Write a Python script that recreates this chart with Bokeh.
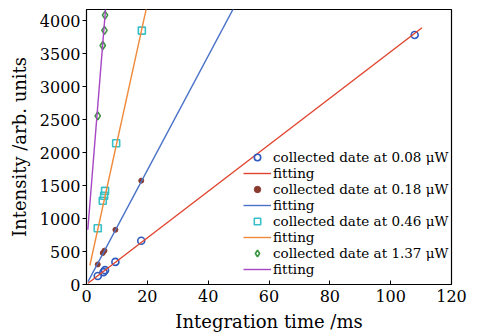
from bokeh.plotting import figure
from bokeh.models import Range1d, Legend, LegendItem, FixedTicker
from bokeh.embed import file_html
from bokeh.resources import INLINE

# ---- data ----
t_008 = [3.7, 5.6, 6.1, 9.5, 18.0, 107.9]
i_008 = [128, 188, 218, 343, 665, 3787]
t_018 = [3.7, 5.35, 5.9, 9.5, 18.0]
i_018 = [304, 478, 514, 830, 1576]
t_046 = [3.7, 5.35, 5.8, 6.1, 9.75, 18.2]
i_046 = [854, 1271, 1346, 1421, 2143, 3853]
t_137 = [3.7, 5.35, 5.9, 6.1]
i_137 = [2559, 3627, 3857, 4087]

# fitted lines: slope, intercept, x start, x end
fit_slope = [35.3, 86.7, 210.0, 575.0]
fit_icpt = [2.0, 0.0, 57.0, 583.0]
fit_x0 = [0.5, 0.5, 1.1, 0.43]
fit_x1 = [110.3, 50.0, 20.5, 6.6]

labels = ["collected date at 0.08 \u03bcW", "collected date at 0.18 \u03bcW",
          "collected date at 0.46 \u03bcW", "collected date at 1.37 \u03bcW"]
x_ticks = [0, 20, 40, 60, 80, 100, 120]
y_ticks = [0, 500, 1000, 1500, 2000, 2500, 3000, 3500, 4000]

FONT = "DejaVu Serif"

p = figure(width=472, height=334, output_backend="svg", toolbar_location=None,
           x_range=Range1d(0, 120), y_range=Range1d(0, 4173),
           min_border_left=86, min_border_right=21, min_border_top=9, min_border_bottom=44)
p.background_fill_color = "white"
p.outline_line_color = "black"
p.outline_line_width = 1.2
p.xgrid.visible = False
p.ygrid.visible = False

for ax in (p.xaxis[0], p.yaxis[0]):
    ax.axis_label_text_font = FONT
    ax.axis_label_text_font_style = "normal"
    ax.axis_label_text_font_size = "18px"
    ax.axis_label_text_color = "black"
    ax.major_label_text_font = FONT
    ax.major_label_text_font_size = "16px"
    ax.major_label_text_color = "black"
    ax.minor_tick_line_color = None
    ax.axis_line_color = "black"
    ax.major_tick_line_color = "black"

p.xaxis.axis_label = "Integration time /ms"
p.yaxis.axis_label = "Intensity /arb. units"
p.xaxis.ticker = FixedTicker(ticks=x_ticks)
p.yaxis.ticker = FixedTicker(ticks=y_ticks)
p.xaxis.major_tick_in = 4
p.xaxis.major_tick_out = 0
p.yaxis.major_tick_in = 0
p.yaxis.major_tick_out = 4
p.xaxis.major_label_standoff = 5
p.yaxis.major_label_standoff = 2
p.xaxis.axis_label_standoff = 6
p.yaxis.axis_label_standoff = 7

line_colors = ["#e0442e", "#4a72c8", "#f08a3a", "#a745c4"]

# scatter markers
r_pts = []
r_pts.append(p.scatter(t_008, i_008, marker="circle", size=7, fill_color=None,
                       line_color="#2f5bbf", line_width=1.6))
r_pts.append(p.scatter(t_018, i_018, marker="circle", size=5, fill_color="#8b3a2e",
                       line_color="#8b3a2e", line_width=1))
r_pts.append(p.scatter(t_046, i_046, marker="square", size=7, fill_color=None,
                       line_color="#38c0c8", line_width=1.6))
r_pts.append(p.scatter(t_137, i_137, marker="diamond", size=8, fill_color=None,
                       line_color="#3c9440", line_width=1.6))

r_lines = []
for k in range(4):
    xs = [fit_x0[k], fit_x1[k]]
    ys = [fit_icpt[k] + fit_slope[k] * x for x in xs]
    r_lines.append(p.line(xs, ys, line_color=line_colors[k], line_width=1.4))

items = []
for k in range(4):
    items.append(LegendItem(label=labels[k], renderers=[r_pts[k]]))
    items.append(LegendItem(label="fitting", renderers=[r_lines[k]]))

leg = Legend(items=items, location=(157, 7), padding=0, margin=0, spacing=0,
             glyph_width=28, glyph_height=16, label_height=16, label_standoff=2,
             label_text_font=FONT, label_text_font_size="13.5px",
             label_text_color="black",
             background_fill_alpha=0, border_line_color=None)
p.add_layout(leg, "center")

open("out.html", "w").write(file_html(p, INLINE))
